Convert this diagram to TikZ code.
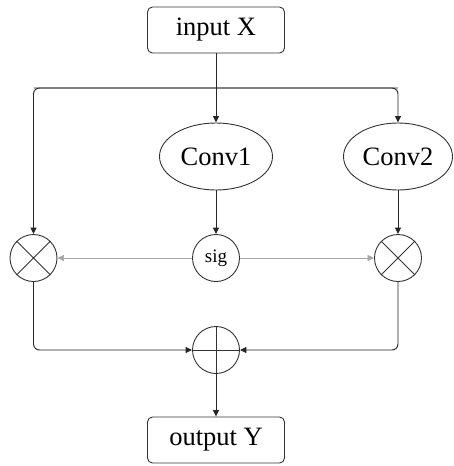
\documentclass[tikz,border=0pt]{standalone}
\usepackage{fontspec}
\setmainfont{Liberation Serif}
\usetikzlibrary{shapes.geometric,arrows.meta}
\begin{document}
\begin{tikzpicture}[x=1pt,y=-1pt,
  line width=0.9pt,
  every node/.style={draw=black!80, line width=0.9pt, inner sep=0pt},
  boxnode/.style={rectangle, rounded corners=5pt, minimum width=137pt, minimum height=46pt, font=\fontsize{26.5}{28}\selectfont},
  ellnode/.style={ellipse, minimum width=113pt, minimum height=67pt, font=\fontsize{26.5}{28}\selectfont},
  opnode/.style={circle, minimum size=47pt},
  arr/.style={-{Triangle[length=6.5pt,width=6pt]}, draw=black!85},
  garr/.style={-{Triangle[length=6.5pt,width=6pt]}, draw=black!35, line width=0.7pt}
]
\useasboundingbox (0,0) rectangle (453,466);
\node[boxnode] (in) at (216,30) {input X};
\node[ellnode] (c1) at (216,156.5) {Conv1};
\node[ellnode, minimum width=109pt] (c2) at (398,156.5) {Conv2};
\node[opnode, font=\fontsize{19}{20}\selectfont] (sig) at (216,258) {sig};
\node[opnode] (ml) at (33.5,258) {};
\node[opnode] (mr) at (398,258) {};
\node[opnode] (add) at (216,350) {};
\node[boxnode] (out) at (216,440) {output Y};
% cross marks
\draw[black!80] (ml.north west) -- (ml.south east) (ml.north east) -- (ml.south west);
\draw[black!80] (mr.north west) -- (mr.south east) (mr.north east) -- (mr.south west);
\draw[black!80] (add.north) -- (add.south) (add.west) -- (add.east);
\coordinate (jl) at (33.5,88);
\coordinate (jr) at (398,88);
\coordinate (bl) at (33.5,350);
\coordinate (br) at (398,350);
% connectors
\draw[arr] (in.south) -- (c1.north);
\draw[arr, rounded corners=6pt] (jl) -- (jr) -- (c2.north);
\draw[arr, rounded corners=6pt] (jr) -- (jl) -- (ml.north);
\draw[arr] (c1.south) -- (sig.north);
\draw[arr] (c2.south) -- (mr.north);
\draw[garr] (sig.west) -- (ml.east);
\draw[garr] (sig.east) -- (mr.west);
\draw[arr, rounded corners=6pt] (ml.south) -- (bl) -- (add.west);
\draw[arr, rounded corners=6pt] (mr.south) -- (br) -- (add.east);
\draw[arr] (add.south) -- (out.north);
\end{tikzpicture}
\end{document}
